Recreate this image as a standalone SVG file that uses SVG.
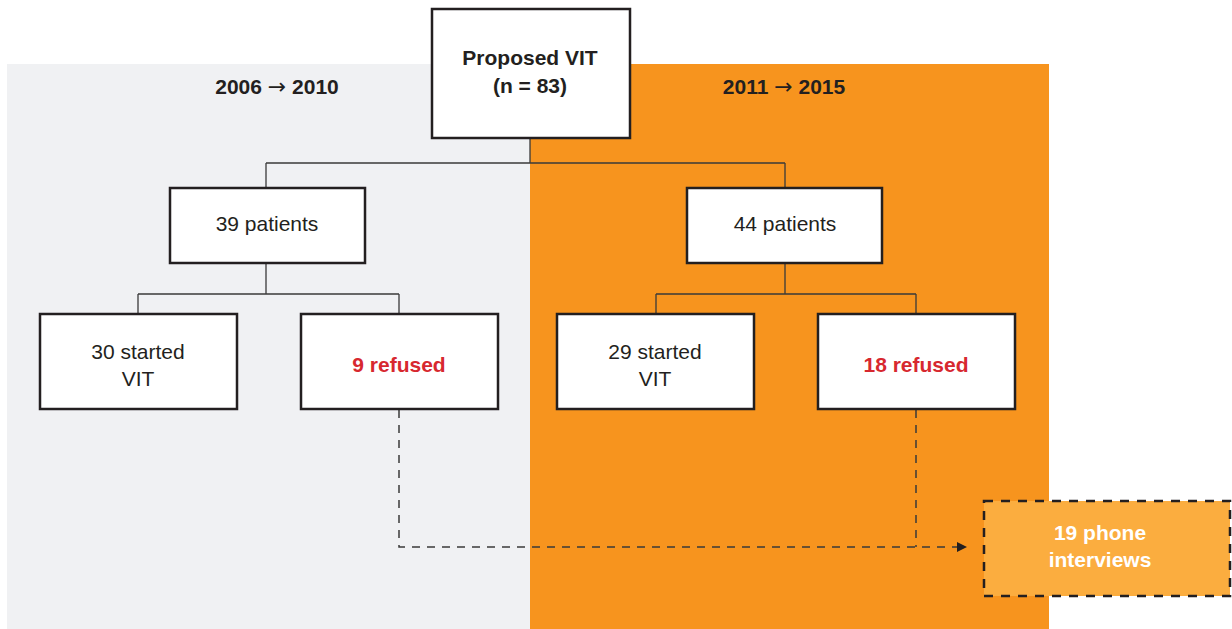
<svg xmlns="http://www.w3.org/2000/svg" width="1232" height="629" viewBox="0 0 1232 629">
<style>
.box{fill:#fff;stroke:#231F20;stroke-width:2.5}
.t{font-family:"Liberation Sans",Arial,sans-serif;font-size:21px;fill:#231F20;text-anchor:middle}
.b{font-weight:bold}
.red{fill:#D7282F;font-weight:bold}
.w{fill:#fff}
.ar{font-family:"DejaVu Sans",sans-serif;font-weight:normal;font-size:22px}
.ln{fill:none;stroke:#3a3a3a;stroke-width:1.3}
.dash{fill:none;stroke:#3a3a3a;stroke-width:1.5;stroke-dasharray:8 7}
</style>
<defs>
<marker id="arr" markerWidth="10" markerHeight="10" refX="9" refY="5" orient="auto" markerUnits="userSpaceOnUse">
<path d="M0,0 L10,5 L0,10 z" fill="#231F20"/>
</marker>
</defs>
<rect x="0" y="0" width="1232" height="629" fill="#fff"/>
<rect x="7" y="64" width="523" height="565" fill="#F0F1F3"/>
<rect x="530" y="64" width="519" height="565" fill="#F7941E"/>
<text class="t b" x="277" y="94">2006 <tspan class="ar">→</tspan> 2010</text>
<text class="t b" x="784" y="94">2011 <tspan class="ar">→</tspan> 2015</text>
<g id="connectors">
<path class="ln" d="M530,138 V163 M266,163 H785 M266,163 V188 M785,163 V188"/>
<path class="ln" d="M266,264 V294 M138,294 H399 M138,294 V314 M399,294 V314"/>
<path class="ln" d="M785,264 V294 M656,294 H916 M656,294 V314 M916,294 V314"/>
<path class="dash" d="M399,410 V547 H966" marker-end="url(#arr)"/>
<path class="dash" d="M916,410 V547"/>
</g>
<g id="root">
<rect class="box" x="432" y="9" width="198" height="129"/>
<text class="t b" x="530" y="65">Proposed VIT</text>
<text class="t b" x="530" y="93">(n = 83)</text>
</g>
<g id="p39">
<rect class="box" x="170" y="188" width="195" height="75"/>
<text class="t" x="267" y="231">39 patients</text>
</g>
<g id="p44">
<rect class="box" x="687" y="188" width="195" height="75"/>
<text class="t" x="785" y="231">44 patients</text>
</g>
<g id="s30">
<rect class="box" x="40" y="314" width="197" height="95"/>
<text class="t" x="138" y="359">30 started</text>
<text class="t" x="138" y="386">VIT</text>
</g>
<g id="r9">
<rect class="box" x="301" y="314" width="197" height="95"/>
<text class="t red" x="399" y="372">9 refused</text>
</g>
<g id="s29">
<rect class="box" x="557" y="314" width="197" height="95"/>
<text class="t" x="655" y="359">29 started</text>
<text class="t" x="655" y="386">VIT</text>
</g>
<g id="r18">
<rect class="box" x="818" y="314" width="197" height="95"/>
<text class="t red" x="916" y="372">18 refused</text>
</g>
<g id="phone">
<rect x="984" y="501" width="246" height="95" fill="#FBAD3F" stroke="#231F20" stroke-width="2.5" stroke-dasharray="9 8"/>
<text class="t b w" x="1100" y="540">19 phone</text>
<text class="t b w" x="1100" y="567">interviews</text>
</g>
</svg>
